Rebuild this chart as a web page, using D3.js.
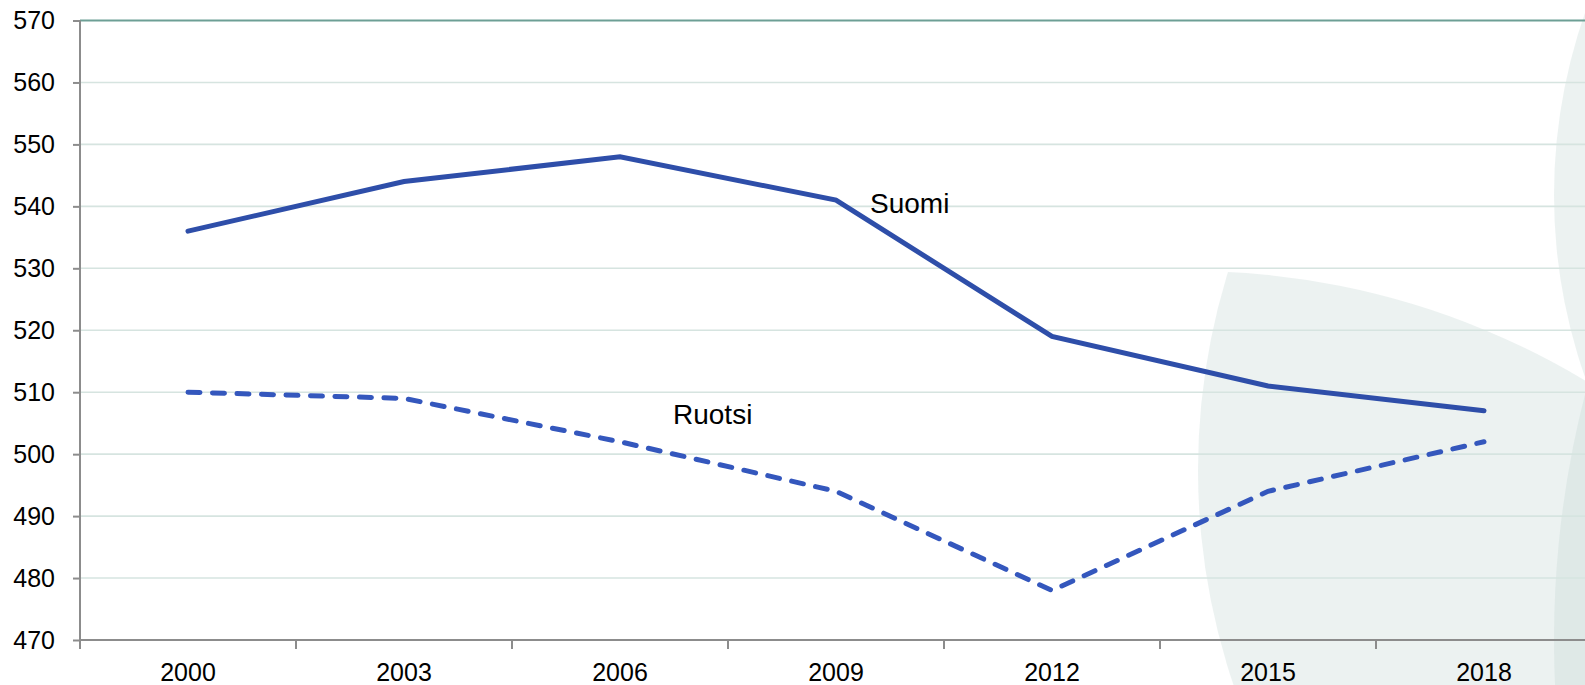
<!DOCTYPE html>
<html>
<head>
<meta charset="utf-8">
<script src="https://cdn.jsdelivr.net/npm/d3@7"></script>
<style>
  html, body { margin: 0; padding: 0; background: #ffffff; }
  svg { display: block; }
  text { font-family: "Liberation Sans", Arial, sans-serif; fill: #000; }
</style>
</head>
<body>
<div id="chart"></div>
<script>
const years = ["2000", "2003", "2006", "2009", "2012", "2015", "2018"];
const suomi = [536, 544, 548, 541, 519, 511, 507];
const ruotsi = [510, 509, 502, 494, 478, 494, 502];
const yTicks = [470, 480, 490, 500, 510, 520, 530, 540, 550, 560, 570];
const seriesNames = ["Suomi", "Ruotsi"];

(function () {
const W = 1585, H = 685;
const mLeft = 80, mTop = 20.5, mBottom = 640, bandW = 216;

const svg = d3.select("#chart").append("svg").attr("width", W).attr("height", H);

const x = d3.scaleBand().domain(years).range([mLeft, mLeft + bandW * years.length]).padding(0);
const y = d3.scaleLinear().domain([470, 570]).range([mBottom, mTop]);

// decorative background shapes
const defs = svg.append("defs");
defs.append("clipPath").attr("id", "c2").append("circle").attr("cx", 1190).attr("cy", 1038).attr("r", 767);
const bg = svg.append("g");
const petalFill = "#c4d6d3", petalOp = 0.32;
bg.append("circle").attr("cx", 1866).attr("cy", 470).attr("r", 668)
  .attr("clip-path", "url(#c2)").attr("fill", petalFill).attr("fill-opacity", petalOp);
bg.append("circle").attr("cx", 2104).attr("cy", 195).attr("r", 550)
  .attr("fill", petalFill).attr("fill-opacity", petalOp);
bg.append("circle").attr("cx", 2542).attr("cy", 640).attr("r", 988)
  .attr("fill", petalFill).attr("fill-opacity", petalOp);

// gridlines
svg.append("g").selectAll("line").data(yTicks.filter(d => d > 470)).join("line")
  .attr("x1", mLeft).attr("x2", W)
  .attr("y1", d => y(d)).attr("y2", d => y(d))
  .attr("stroke", d => d === 570 ? "#6d9f95" : "#d6e4e0")
  .attr("stroke-width", d => d === 570 ? 2 : 1.6);

// y axis
const yAxis = d3.axisLeft(y).tickValues(yTicks).tickSize(7).tickPadding(18).tickFormat(d3.format("d"));
const gy = svg.append("g").attr("transform", `translate(${mLeft},0)`).call(yAxis);
gy.select(".domain").remove();
gy.selectAll(".tick line").attr("stroke", "#8c8c8c").attr("stroke-width", 2);
gy.selectAll(".tick text").attr("font-size", 25).attr("font-family", "Liberation Sans, Arial, sans-serif").attr("fill", "#000");
svg.append("line").attr("x1", mLeft).attr("x2", mLeft).attr("y1", mTop).attr("y2", mBottom + 9)
  .attr("stroke", "#8c8c8c").attr("stroke-width", 2);

// x axis
svg.append("line").attr("x1", mLeft).attr("x2", W).attr("y1", mBottom).attr("y2", mBottom)
  .attr("stroke", "#8c8c8c").attr("stroke-width", 2);
svg.append("g").selectAll("line").data(years).join("line")
  .attr("x1", d => x(d)).attr("x2", d => x(d))
  .attr("y1", mBottom).attr("y2", mBottom + 9)
  .attr("stroke", "#8c8c8c").attr("stroke-width", 2);
svg.append("g").selectAll("text").data(years).join("text")
  .attr("x", d => x(d) + x.bandwidth() / 2)
  .attr("y", mBottom + 41)
  .attr("text-anchor", "middle")
  .attr("font-size", 25)
  .text(d => d);

// lines
const line = d3.line().x((d, i) => x(years[i]) + x.bandwidth() / 2).y(d => y(d));
svg.append("path").datum(suomi).attr("d", line)
  .attr("fill", "none").attr("stroke", "#2e4ea9").attr("stroke-width", 5)
  .attr("stroke-linejoin", "miter").attr("stroke-linecap", "round");
svg.append("path").datum(ruotsi).attr("d", line)
  .attr("fill", "none").attr("stroke", "#3457bd").attr("stroke-width", 5)
  .attr("stroke-dasharray", "12,12.5").attr("stroke-linecap", "round");

// series labels
svg.append("text").attr("x", x(years[3]) + x.bandwidth() / 2 + 34).attr("y", y(541) + 12.5)
  .attr("font-size", 28).text(seriesNames[0]);
svg.append("text").attr("x", x(years[2]) + x.bandwidth() / 2 + 53).attr("y", y(505) + 0.5)
  .attr("font-size", 28).text(seriesNames[1]);
})();
</script>
</body>
</html>
